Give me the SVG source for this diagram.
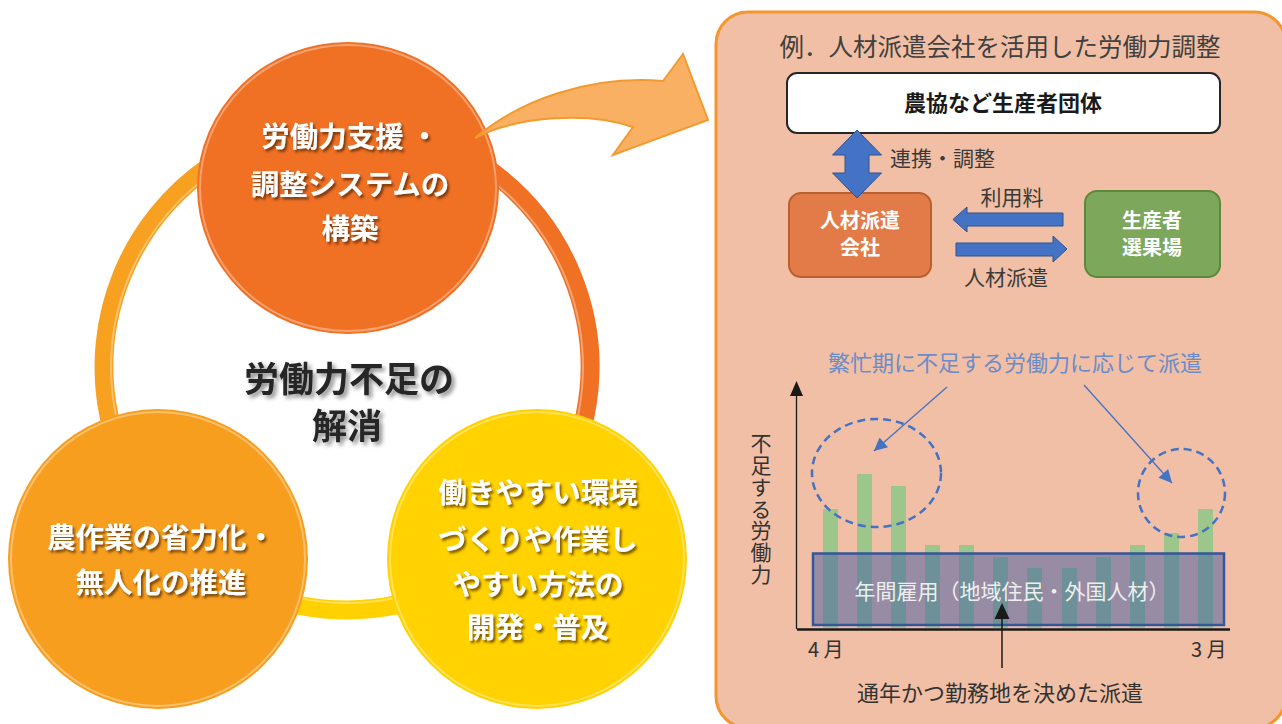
<svg xmlns="http://www.w3.org/2000/svg" width="1282" height="724" viewBox="0 0 1282 724">
  <defs>
    <style>
      .jp { font-family: "Noto Sans CJK JP", "Noto Sans", sans-serif; }
      .circ-text { font-family: "Noto Sans CJK JP", "Noto Sans", sans-serif; font-weight: 700; font-size: 28.5px; fill: #ffffff; text-anchor: middle; filter: url(#shadowDark); }
      .center-text { font-family: "Noto Sans CJK JP", "Noto Sans", sans-serif; font-weight: 700; font-size: 35px; fill: #262626; text-anchor: middle; filter: url(#shadowGray); }
      .panel-text { font-family: "Noto Sans CJK JP", "Noto Sans", sans-serif; font-size: 21px; fill: #3a3a3a; }
      .box-text { font-family: "Noto Sans CJK JP", "Noto Sans", sans-serif; font-weight: 700; font-size: 20px; fill: #ffffff; text-anchor: middle; }
      .rim { fill: none; stroke: #ffffff; stroke-opacity: 0.35; stroke-width: 2; }
      .bar { fill: #9CC68B; }
      .blue-arrow { fill: #4472C4; stroke: #2F528F; stroke-width: 1; }
      .dash { fill: none; stroke: #4472C4; stroke-width: 2.5; stroke-dasharray: 8 5; }
    </style>
    <filter id="shadowDark" x="-10%" y="-20%" width="130%" height="160%">
      <feDropShadow dx="2" dy="2.5" stdDeviation="1.2" flood-color="#4a2000" flood-opacity="0.7"/>
    </filter>
    <filter id="shadowGray" x="-10%" y="-20%" width="130%" height="160%">
      <feDropShadow dx="3" dy="3" stdDeviation="2" flood-color="#000000" flood-opacity="0.45"/>
    </filter>
    <marker id="blueHead" viewBox="0 0 10 10" refX="10" refY="5" markerWidth="16" markerHeight="13" markerUnits="userSpaceOnUse" orient="auto">
      <path d="M0,0 L10,5 L0,10 z" fill="#4472C4"/>
    </marker>
  </defs>

  <rect width="1282" height="724" fill="#ffffff"/>

  <!-- ring -->
  <g id="ring" fill="none" stroke-width="19">
    <path d="M347,124 A243,243 0 0 1 518.8,538.8" stroke="#F07124"/>
    <path d="M518.8,538.8 A243,243 0 0 1 176.7,540.3" stroke="#FFD100"/>
    <path d="M176.7,540.3 A243,243 0 0 1 347,124" stroke="#F8A01F"/>
    <circle cx="347" cy="367" r="236" stroke="#ffffff" stroke-opacity="0.35" stroke-width="2"/>
  </g>

  <!-- top circle -->
  <g id="node-top">
    <ellipse cx="348" cy="188" rx="151" ry="146" fill="#F07024"/>
    <ellipse cx="348" cy="188" rx="148" ry="143" class="rim"/>
    <text class="circ-text"><tspan x="350" y="147">労働力支援 ・</tspan><tspan x="350" y="195">調整システムの</tspan><tspan x="350" y="239">構築</tspan></text>
  </g>

  <!-- bottom-left circle -->
  <g id="node-left">
    <circle cx="158" cy="559" r="150" fill="#F79E1E"/>
    <circle cx="158" cy="559" r="147" class="rim"/>
    <text class="circ-text"><tspan x="161" y="548">農作業の省力化・</tspan><tspan x="161" y="593">無人化の推進</tspan></text>
  </g>

  <!-- bottom-right circle -->
  <g id="node-right">
    <circle cx="537" cy="559" r="150" fill="#FFD200"/>
    <circle cx="537" cy="559" r="147" class="rim"/>
    <text class="circ-text"><tspan x="538" y="503">働きやすい環境</tspan><tspan x="538" y="550">づくりや作業し</tspan><tspan x="538" y="595">やすい方法の</tspan><tspan x="538" y="638">開発・普及</tspan></text>
  </g>

  <!-- center label -->
  <g id="center-label">
    <text class="center-text"><tspan x="349" y="392">労働力不足の</tspan><tspan x="347" y="439">解消</tspan></text>
  </g>

  <!-- big curved arrow -->
  <g id="big-arrow">
    <path d="M475,138 C520,100 590,75 663,81 L683,54 L708,120 L613,155 L633,127 C590,112 520,115 475,138 Z" fill="#F9B062" stroke="#F39A2E" stroke-width="2" stroke-linejoin="miter"/>
  </g>

  <!-- right panel -->
  <g id="panel">
    <rect x="716" y="12" width="570" height="716" rx="32" ry="32" fill="#F1BFA5" stroke="#F5962D" stroke-width="3"/>
    <text class="jp" x="1000" y="56" font-size="24.5" fill="#404040" text-anchor="middle">例．人材派遣会社を活用した労働力調整</text>
  </g>

  <g id="node-nokyo">
    <rect x="787" y="73" width="433" height="60" rx="10" ry="10" fill="#ffffff" stroke="#262626" stroke-width="2"/>
    <text class="jp" x="1003" y="111" font-size="22" font-weight="700" fill="#1a1a1a" text-anchor="middle">農協など生産者団体</text>
  </g>

  <g id="node-haken">
    <rect x="789" y="193" width="142" height="84" rx="12" ry="12" fill="#E27B48" stroke="#B8602F" stroke-width="2"/>
    <text class="box-text"><tspan x="860" y="228">人材派遣</tspan><tspan x="860" y="255">会社</tspan></text>
  </g>

  <g id="node-senka">
    <rect x="1085" y="191" width="135" height="86" rx="12" ry="12" fill="#7DA75A" stroke="#5C8A3D" stroke-width="2"/>
    <text class="box-text"><tspan x="1152" y="228">生産者</tspan><tspan x="1152" y="255">選果場</tspan></text>
  </g>

  <g id="connectors">
    <polygon class="blue-arrow" points="857,130 881.5,155 869,155 869,173 881.5,173 857,198 832.5,173 845,173 845,155 832.5,155"/>
    <polygon class="blue-arrow" points="953,219.5 967,207 967,213 1063,213 1063,226 967,226 967,232"/>
    <polygon class="blue-arrow" points="956,243 1053,243 1053,236 1067,249 1053,262 1053,256 956,256"/>
    <text class="panel-text" x="890" y="166">連携・調整</text>
    <text class="panel-text" x="1012" y="205" text-anchor="middle">利用料</text>
    <text class="panel-text" x="1006" y="285" text-anchor="middle">人材派遣</text>
  </g>

  <!-- chart -->
  <g id="chart">
    <text class="jp" x="1015" y="371" font-size="22" fill="#6B8CC9" text-anchor="middle">繁忙期に不足する労働力に応じて派遣</text>

    <text class="jp" x="761" y="433" font-size="21" fill="#333333" writing-mode="vertical-rl" letter-spacing="0.7">不足する労働力</text>

    <g id="bars">
      <rect class="bar" x="823" y="509" width="15" height="119"/>
      <rect class="bar" x="857" y="474" width="15" height="154"/>
      <rect class="bar" x="891" y="486" width="15" height="142"/>
      <rect class="bar" x="925" y="545" width="15" height="83"/>
      <rect class="bar" x="959" y="545" width="15" height="83"/>
      <rect class="bar" x="993" y="557" width="15" height="71"/>
      <rect class="bar" x="1027" y="568" width="15" height="60"/>
      <rect class="bar" x="1062" y="568" width="15" height="60"/>
      <rect class="bar" x="1096" y="557" width="15" height="71"/>
      <rect class="bar" x="1130" y="545" width="15" height="83"/>
      <rect class="bar" x="1164" y="533" width="15" height="95"/>
      <rect class="bar" x="1198" y="509" width="15" height="119"/>
    </g>

    <rect x="813" y="553.5" width="411" height="71.5" fill="#3F5AA6" fill-opacity="0.5" stroke="#34569A" stroke-width="2.5"/>
    <text class="jp" x="1012" y="599" font-size="21" fill="#EEEEEE" text-anchor="middle">年間雇用（地域住民・外国人材）</text>

    <line x1="796.5" y1="629" x2="796.5" y2="394" stroke="#1a1a1a" stroke-width="1.3"/>
    <polygon points="796.5,381 790,396 803,396" fill="#1a1a1a"/>
    <line x1="797" y1="629.5" x2="1230" y2="629.5" stroke="#1a1a1a" stroke-width="2.5"/>

    <text class="jp" x="808" y="657" font-size="20" fill="#333333">4 月</text>
    <text class="jp" x="1191" y="657" font-size="20" fill="#333333">3 月</text>

    <ellipse class="dash" cx="876.5" cy="473" rx="64.5" ry="54"/>
    <ellipse class="dash" cx="1181.5" cy="493" rx="43.5" ry="44"/>

    <line x1="947" y1="387" x2="874" y2="451" stroke="#4472C4" stroke-width="1.3" marker-end="url(#blueHead)"/>
    <line x1="1084" y1="385" x2="1172" y2="483" stroke="#4472C4" stroke-width="1.3" marker-end="url(#blueHead)"/>

    <line x1="1002" y1="668" x2="1002" y2="615" stroke="#1a1a1a" stroke-width="1.5"/>
    <polygon points="1002,603 994.5,619 1009.5,619" fill="#1a1a1a"/>

    <text class="jp" x="1000" y="701" font-size="22" fill="#333333" text-anchor="middle">通年かつ勤務地を決めた派遣</text>
  </g>
</svg>
